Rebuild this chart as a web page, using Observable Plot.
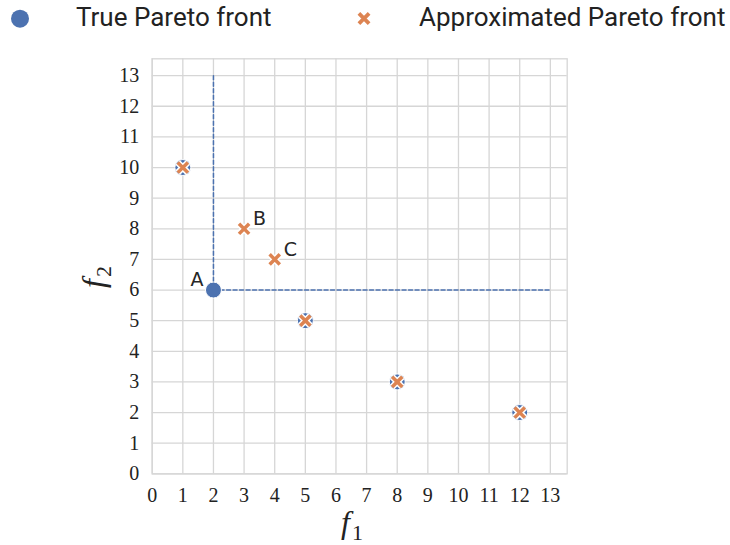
<!DOCTYPE html>
<html>
<head>
<meta charset="utf-8">
<script src="https://cdn.jsdelivr.net/npm/d3@7"></script>
<script src="https://cdn.jsdelivr.net/npm/@observablehq/plot@0.6"></script>
<style>
  html, body { margin: 0; padding: 0; background: #fff; }
  #legend { display: block; }
  #chart svg { display: block; }
</style>
</head>
<body>
<svg id="legend" width="730" height="42"></svg>
<div id="chart"></div>
<script>
// Objective values of the true Pareto front
const trueF1 = [1, 2, 5, 8, 12];
const trueF2 = [10, 6, 5, 3, 2];

// Objective values of the approximated Pareto front
const approxF1 = [1, 3, 4, 5, 8, 12];
const approxF2 = [10, 8, 7, 5, 3, 2];

// Named points
const pointNames = ["A", "B", "C"];
const pointF1 = [2, 3, 4];
const pointF2 = [6, 8, 7];

// Dominance guide through point A
const guideF1 = [2, 2, 13];
const guideF2 = [13, 6, 6];

// Axis ticks
const ticks = [0, 1, 2, 3, 4, 5, 6, 7, 8, 9, 10, 11, 12, 13];

const seriesNames = ["True Pareto front", "Approximated Pareto front"];

const blue = "#4c72b0";
const orange = "#dd8452";
const gridColor = "#d6d6d6";
const serif = "'Liberation Serif', 'DejaVu Serif', serif";

const trueFront = trueF1.map((f1, i) => ({f1, f2: trueF2[i]}));
const approxFront = approxF1.map((f1, i) => ({f1, f2: approxF2[i]}));
const named = pointNames.map((name, i) => ({name, f1: pointF1[i], f2: pointF2[i]}));
const guide = guideF1.map((f1, i) => ({f1, f2: guideF2[i]}));

const labelStyle = {
  x: "f1", y: "f2", text: "name", dy: -10, fontSize: 19,
  fontFamily: "'DejaVu Sans', sans-serif", fill: "#262626"
};

const chart = Plot.plot({
  width: 730,
  height: 503,
  marginLeft: 151.7,
  marginRight: 163.3,
  marginTop: 16.3,
  marginBottom: 71.7,
  x: {domain: [0, 13.55]},
  y: {domain: [0, 13.55]},
  style: {fontFamily: serif, fontSize: "20px", color: "#222", background: "#fff"},
  marks: [
    Plot.gridX(ticks, {stroke: gridColor, strokeOpacity: 1, strokeWidth: 1.3}),
    Plot.gridY(ticks, {stroke: gridColor, strokeOpacity: 1, strokeWidth: 1.3}),
    Plot.frame({stroke: gridColor, strokeWidth: 1.3}),
    Plot.axisX(ticks, {tickSize: 0, tickPadding: 14, label: null, fontSize: 20, fontFamily: serif}),
    Plot.axisY(ticks, {tickSize: 0, tickPadding: 13, label: null, fontSize: 20, fontFamily: serif}),
    Plot.line(guide, {x: "f1", y: "f2", stroke: blue, strokeWidth: 1.5, strokeDasharray: "4,2.5"}),
    Plot.dot(trueFront, {x: "f1", y: "f2", r: 8, fill: blue, stroke: "#fff", strokeWidth: 1}),
    Plot.dot(approxFront, {x: "f1", y: "f2", symbol: "times", r: 4.7, stroke: "#fff", strokeWidth: 6.4}),
    Plot.dot(approxFront, {x: "f1", y: "f2", symbol: "times", r: 4.7, stroke: orange, strokeWidth: 3.5}),
    Plot.text(named.filter((d) => d.name === "A"), {...labelStyle, textAnchor: "end", dx: -10}),
    Plot.text(named.filter((d) => d.name !== "A"), {...labelStyle, textAnchor: "start", dx: 9})
  ]
});

document.getElementById("chart").appendChild(chart);

// Axis titles: italic f with an upright subscript
const svg = d3.select(chart);
function axisTitle(sel, sub) {
  sel.attr("font-family", serif).attr("font-size", 32)
    .attr("font-style", "italic").attr("fill", "#222");
  sel.append("tspan").text("f");
  sel.append("tspan").attr("font-style", "normal").attr("font-size", 22)
    .attr("dy", 7).attr("dx", 2).text(sub);
}
axisTitle(svg.append("text").attr("x", 352).attr("y", 491), "1");
axisTitle(svg.append("text").attr("transform", "translate(104,235) rotate(-90)"), "2");

// Legend row
const legend = d3.select("#legend");
legend.append("circle").attr("cx", 20).attr("cy", 18.7).attr("r", 9).attr("fill", blue);
legend.append("path")
  .attr("d", d3.symbol(d3.symbolTimes, 70)())
  .attr("transform", "translate(364,18.5)")
  .attr("fill", "none").attr("stroke", orange).attr("stroke-width", 3.8);
const legendFont = "Roboto, 'DejaVu Sans Condensed', sans-serif";
legend.append("text").attr("x", 76).attr("y", 26)
  .attr("font-family", legendFont).attr("font-size", 26).attr("fill", "#222")
  .text(seriesNames[0]);
legend.append("text").attr("x", 419).attr("y", 26)
  .attr("font-family", legendFont).attr("font-size", 26).attr("fill", "#222")
  .text(seriesNames[1]);
</script>
</body>
</html>
